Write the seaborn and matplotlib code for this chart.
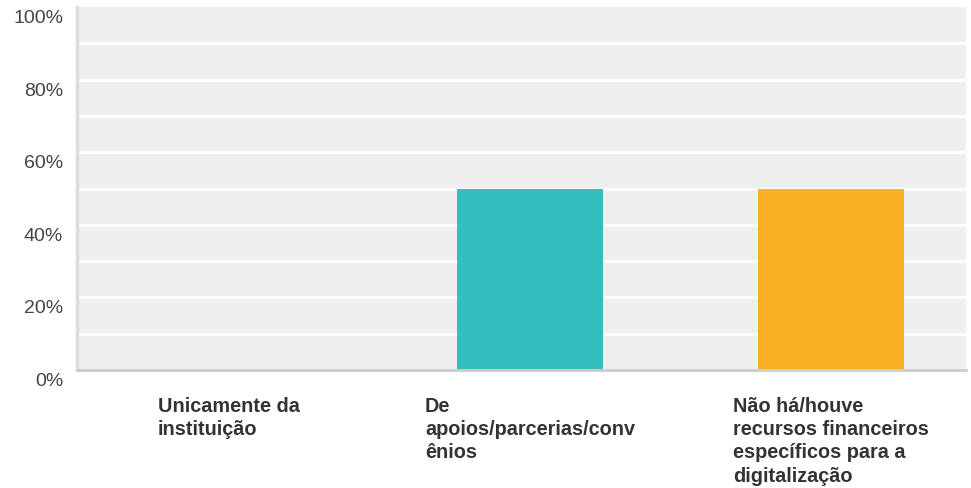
import matplotlib
matplotlib.use("Agg")
import matplotlib.pyplot as plt
import matplotlib.transforms as mtransforms
import seaborn as sns
import pandas as pd

categories = ["Unicamente da\ninstituição",
              "De\napoios/parcerias/conv\nênios",
              "Não há/houve\nrecursos financeiros\nespecíficos para a\ndigitalização"]
values = [0, 50, 50]
colors = ["#3366cc", "#33bdbd", "#f7b022"]
yticks = [0, 20, 40, 60, 80, 100]
ytick_labels = ["0%", "20%", "40%", "60%", "80%", "100%"]

sns.set_theme(style="white")
plt.rcParams['font.family'] = ['Liberation Sans', 'DejaVu Sans']

fig = plt.figure(figsize=(9.71, 4.89), dpi=100)
ax = fig.add_axes([77/971, 1-371/489, (966-77)/971, (371-8)/489])
ax.set_facecolor("#efefef")

df = pd.DataFrame({"cat": categories, "val": values})
sns.barplot(data=df, x="cat", y="val", hue="cat", palette=colors,
            width=0.485, legend=False, ax=ax, saturation=1, linewidth=0)

ax.set_xlim(-0.505, 2.448)
ax.set_ylim(0, 100)
for y in range(10, 100, 10):
    ax.axhline(y, color="white", lw=2, zorder=0.5)
ax.set_axisbelow(True)

ax.set_yticks(yticks)
ax.set_yticklabels(ytick_labels, fontsize=14, color="#444444")
ax.tick_params(axis="y", length=0, pad=10)
offset = mtransforms.ScaledTranslation(0, -8.5/100, fig.dpi_scale_trans)
for lab in ax.get_yticklabels():
    lab.set_transform(lab.get_transform() + offset)

ax.tick_params(axis="x", length=0, pad=19)
for lab in ax.get_xticklabels():
    lab.set_fontsize(14.3)
    lab.set_fontweight("bold")
    lab.set_color("#333333")
    lab.set_multialignment("left")
    lab.set_linespacing(1.27)

ax.set_xlabel("")
ax.set_ylabel("")
for s in ["top", "right"]:
    ax.spines[s].set_visible(False)
ax.spines["left"].set_color("#dddddd")
ax.spines["left"].set_linewidth(2.5)
ax.spines["bottom"].set_color("#cccccc")
ax.spines["bottom"].set_linewidth(2)

fig.savefig("out.png", dpi=100, facecolor="white")
